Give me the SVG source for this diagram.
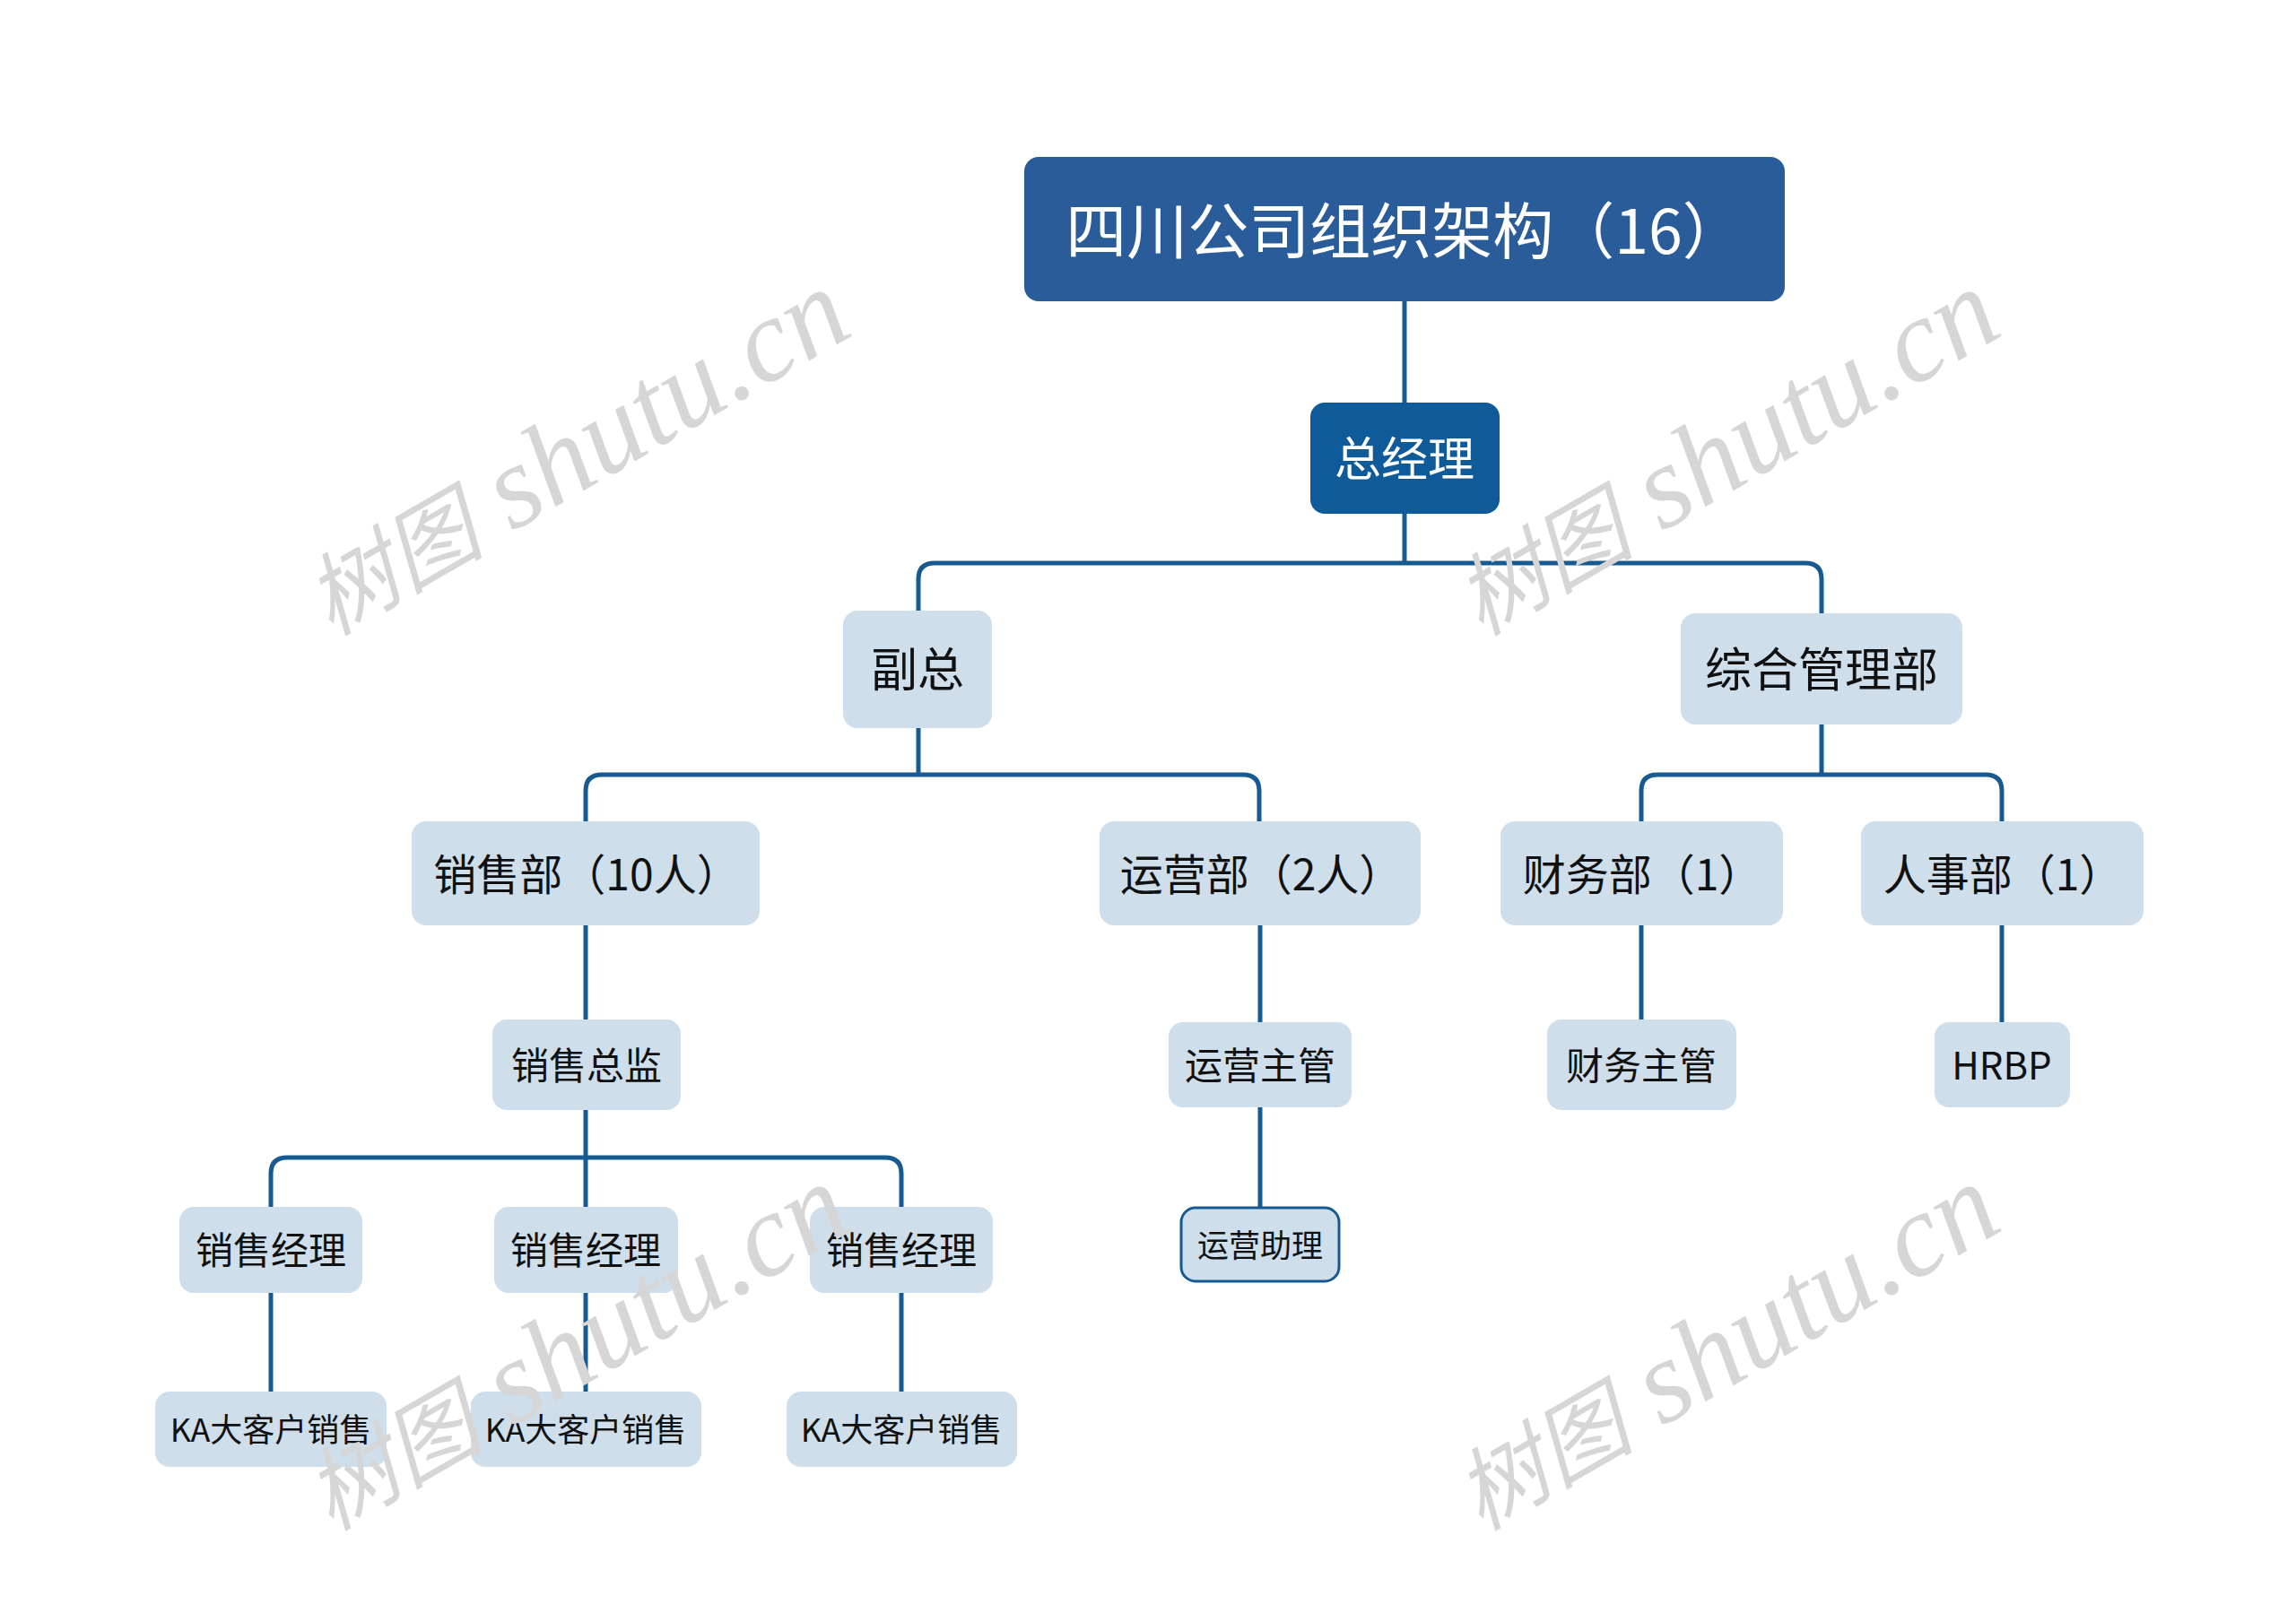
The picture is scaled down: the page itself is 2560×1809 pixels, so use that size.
<svg xmlns="http://www.w3.org/2000/svg" width="2560" height="1809" viewBox="0 0 2560 1809">
<style>
  .bg{fill:#ffffff}
  .wm{font-family:"Liberation Serif","Noto Sans CJK SC",serif;font-style:italic;font-size:132px;fill:#d6d6d6}
  .wm .cj{font-size:100px}
  .conn{fill:none;stroke:#175a91;stroke-width:5}
  .root rect{fill:#295c98}
  .gm rect{fill:#0f5a99}
  .lt rect{fill:#cedeea}
  .bord rect{stroke:#175a91;stroke-width:3}
  text.t{font-family:"Noto Sans CJK SC","Noto Sans",sans-serif;text-anchor:middle;dominant-baseline:central;fill:#111111}
  .root text.t,.gm text.t{fill:#ffffff}
</style>
<rect class="bg" x="0" y="0" width="2560" height="1809"/>

<g id="connectors">
  <path class="conn" d="M1566,336 V449"/>
  <path class="conn" d="M1566,573 V628"/>
  <path class="conn" d="M1024,681 V646 Q1024,628 1042,628 H2013 Q2031,628 2031,646 V684"/>
  <path class="conn" d="M1024,812 V864"/>
  <path class="conn" d="M653,916 V882 Q653,864 671,864 H1386 Q1404,864 1404,882 V916"/>
  <path class="conn" d="M2031,808 V864"/>
  <path class="conn" d="M1830,916 V882 Q1830,864 1848,864 H2214 Q2232,864 2232,882 V916"/>
  <path class="conn" d="M653,1032 V1137"/>
  <path class="conn" d="M1405,1032 V1140"/>
  <path class="conn" d="M1830,1032 V1137"/>
  <path class="conn" d="M2232,1032 V1140"/>
  <path class="conn" d="M653,1238 V1346"/>
  <path class="conn" d="M302,1346 V1309 Q302,1291 320,1291 H987 Q1005,1291 1005,1309 V1346"/>
  <path class="conn" d="M302,1442 V1552"/>
  <path class="conn" d="M653,1442 V1552"/>
  <path class="conn" d="M1005,1442 V1552"/>
  <path class="conn" d="M1405,1235 V1347"/>
</g>

<g id="n-root" class="root"><rect x="1142" y="175" width="848" height="161" rx="16"/><text class="t" x="1566" y="253" font-size="68">四川公司组织架构（16）</text></g>
<g id="n-gm" class="gm"><rect x="1461" y="449" width="211" height="124" rx="16"/><text class="t" x="1566" y="508" font-size="52">总经理</text></g>
<g id="n-vp" class="lt"><rect x="940" y="681" width="166" height="131" rx="16"/><text class="t" x="1023" y="743" font-size="52">副总</text></g>
<g id="n-admin" class="lt"><rect x="1874" y="684" width="314" height="124" rx="16"/><text class="t" x="2031" y="743" font-size="52">综合管理部</text></g>
<g id="n-sales" class="lt"><rect x="459" y="916" width="388" height="116" rx="16"/><text class="t" x="654" y="972" font-size="48">销售部（10人）</text></g>
<g id="n-ops" class="lt"><rect x="1226" y="916" width="358" height="116" rx="16"/><text class="t" x="1406" y="972" font-size="48">运营部（2人）</text></g>
<g id="n-fin" class="lt"><rect x="1673" y="916" width="315" height="116" rx="16"/><text class="t" x="1831" y="972" font-size="48">财务部（1）</text></g>
<g id="n-hr" class="lt"><rect x="2075" y="916" width="315" height="116" rx="16"/><text class="t" x="2233" y="972" font-size="48">人事部（1）</text></g>
<g id="n-salesdir" class="lt"><rect x="549" y="1137" width="210" height="101" rx="16"/><text class="t" x="654" y="1185" font-size="42">销售总监</text></g>
<g id="n-opsmgr" class="lt"><rect x="1303" y="1140" width="204" height="95" rx="16"/><text class="t" x="1405" y="1185" font-size="42">运营主管</text></g>
<g id="n-finmgr" class="lt"><rect x="1725" y="1137" width="211" height="101" rx="16"/><text class="t" x="1830" y="1185" font-size="42">财务主管</text></g>
<g id="n-hrbp" class="lt"><rect x="2157" y="1140" width="151" height="95" rx="16"/><text class="t" x="2232" y="1185" font-size="42">HRBP</text></g>
<g id="n-sm1" class="lt"><rect x="200" y="1346" width="204" height="96" rx="16"/><text class="t" x="302" y="1391" font-size="42">销售经理</text></g>
<g id="n-sm2" class="lt"><rect x="551" y="1346" width="205" height="96" rx="16"/><text class="t" x="653" y="1391" font-size="42">销售经理</text></g>
<g id="n-sm3" class="lt"><rect x="903" y="1346" width="204" height="96" rx="16"/><text class="t" x="1005" y="1391" font-size="42">销售经理</text></g>
<g id="n-opsast" class="lt bord"><rect x="1317" y="1347" width="176" height="82" rx="16"/><text class="t" x="1405" y="1386" font-size="35">运营助理</text></g>
<g id="n-ka1" class="lt"><rect x="173" y="1552" width="258" height="84" rx="16"/><text class="t" x="302" y="1592" font-size="36">KA大客户销售</text></g>
<g id="n-ka2" class="lt"><rect x="525" y="1552" width="257" height="84" rx="16"/><text class="t" x="653" y="1592" font-size="36">KA大客户销售</text></g>
<g id="n-ka3" class="lt"><rect x="877" y="1552" width="257" height="84" rx="16"/><text class="t" x="1005" y="1592" font-size="36">KA大客户销售</text></g>

<g id="watermarks">
  <text class="wm" transform="translate(369,710) rotate(-30)"><tspan class="cj">树图</tspan> shutu.cn</text>
  <text class="wm" transform="translate(1651,710) rotate(-30)"><tspan class="cj">树图</tspan> shutu.cn</text>
  <text class="wm" transform="translate(369,1708) rotate(-30)"><tspan class="cj">树图</tspan> shutu.cn</text>
  <text class="wm" transform="translate(1651,1708) rotate(-30)"><tspan class="cj">树图</tspan> shutu.cn</text>
</g>
</svg>
